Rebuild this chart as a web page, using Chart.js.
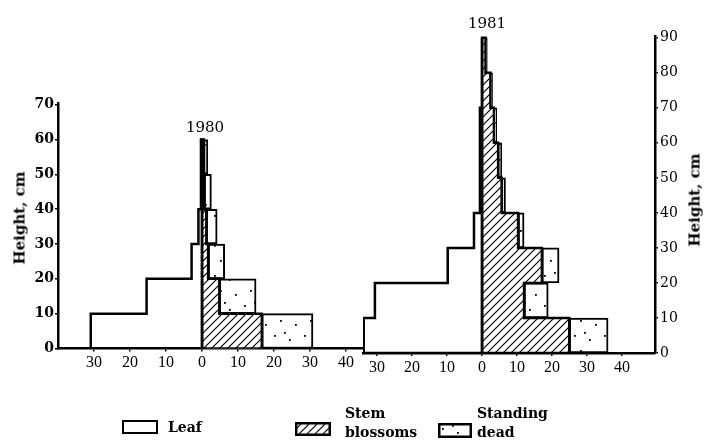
<!DOCTYPE html>
<html><head><meta charset="utf-8">
<script src="https://cdn.jsdelivr.net/npm/chart.js@4.4.1/dist/chart.umd.min.js"></script>
<style>
html,body{margin:0;padding:0;background:#fff;}
#wrap{position:relative;width:705px;height:444px;overflow:hidden;font-family:"DejaVu Serif",serif;color:#000;background:#fff;}
canvas{position:absolute;left:0;top:0;}
.t{position:absolute;white-space:nowrap;line-height:1;}
.yt{font-weight:bold;font-size:15px;transform:translate(-50%,-50%) rotate(-90deg);}
.yr{font-size:15px;transform:translate(-50%,-50%);}
.lg{font-weight:bold;font-size:14px;}
.sw{position:absolute;box-sizing:border-box;border:2.5px solid #000;}
</style></head><body>
<div id="wrap">
<canvas id="c1" width="705" height="444"></canvas>
<canvas id="c2" width="705" height="444"></canvas>
<div class="t yt" style="left:20px;top:218px;">Height, cm</div>
<div class="t yt" style="left:695px;top:200px;">Height, cm</div>
<div class="t yr" id="y1980" style="left:205px;top:127px;"></div>
<div class="t yr" id="y1981" style="left:487px;top:23px;"></div>
<div class="sw" style="left:122px;top:420px;width:36px;height:14px;background:#fff;"></div>
<div class="t lg" style="left:168px;top:420px;">Leaf</div>
<canvas id="sw2" width="36" height="14" style="left:295px;top:422px;"></canvas>
<div class="t lg" style="left:345px;top:406px;">Stem</div>
<div class="t lg" style="left:345px;top:425px;">blossoms</div>
<canvas id="sw3" width="34" height="15" style="left:438px;top:423px;"></canvas>
<div class="t lg" style="left:477px;top:406px;">Standing</div>
<div class="t lg" style="left:477px;top:425px;">dead</div>
</div>
<script>
// ---- data (values in phytomass units, heights in cm) ----
const years = ['1980', '1981'];
const seriesNames = ['Leaf', 'Stem blossoms', 'Standing dead'];
const xTickValues = [-30, -20, -10, 0, 10, 20, 30, 40];

const bands1980 = [0, 10, 20, 30, 40, 50];
const leaf1980  = [30.9, 15.4, 2.9, 1.0, 0.3, 0.3];
const stem1980  = [16.6, 4.8, 1.7, 1.2, 0.6, 0.5];
const dead1980  = [14.2, 10.2, 4.6, 3.0, 2.0, 1.1];

const bands1981 = [0, 10, 20, 30, 40, 50, 60, 70, 80];
const leaf1981  = [33.8, 30.6, 9.8, 2.3, 0.6, 0.6, 0.6, 0, 0];
const stem1981  = [24.9, 12.0, 17.1, 10.3, 5.6, 4.6, 3.4, 2.4, 1.0];
const dead1981  = [11.1, 6.9, 4.9, 1.7, 1.1, 1.0, 0.8, 0.6, 0.5];

const BAND = 10;

// ---- fill patterns ----
function hatchPattern(ctx) {
  const c = document.createElement('canvas'); c.width = 8; c.height = 8;
  const g = c.getContext('2d');
  g.fillStyle = '#fff'; g.fillRect(0, 0, 8, 8);
  g.strokeStyle = '#000'; g.lineWidth = 1.2;
  g.beginPath();
  g.moveTo(0, 8); g.lineTo(8, 0);
  g.moveTo(-4, 4); g.lineTo(4, -4);
  g.moveTo(4, 12); g.lineTo(12, 4);
  g.stroke();
  return ctx.createPattern(c, 'repeat');
}
function dotPattern(ctx) {
  const c = document.createElement('canvas'); c.width = 30; c.height = 30;
  const g = c.getContext('2d');
  g.fillStyle = '#fff'; g.fillRect(0, 0, 30, 30);
  g.fillStyle = '#000';
  [[4,5],[19,9],[10,20],[25,24],[14,2]].forEach(p => g.fillRect(p[0], p[1], 1.8, 1.8));
  return ctx.createPattern(c, 'repeat');
}

// ---- helpers building the library tables from the arrays ----
function outline(bands, vals, sign) {
  const pts = [{x: 0, y: bands[0]}];
  bands.forEach((b, i) => {
    pts.push({x: sign * vals[i], y: b});
    pts.push({x: sign * vals[i], y: b + BAND});
  });
  pts.push({x: 0, y: bands[bands.length - 1] + BAND});
  pts.push({x: 0, y: bands[0]});
  return pts;
}

const tickFont = {family: 'Liberation Serif', size: 16};
const yFont = {family: 'DejaVu Serif', size: 14, weight: 'bold'};

function panel(id, bands, leaf, stem, dead, o) {
  const ctx = document.getElementById(id).getContext('2d');
  const hatch = hatchPattern(ctx), dots = dotPattern(ctx);
  const scales = {
    x: {
      type: 'linear', min: o.xmin, max: o.xmax, position: 'bottom', offset: false,
      afterBuildTicks: s => { s.ticks = xTickValues.map(v => ({value: v})); },
      afterFit: s => { s.height = 30; },
      ticks: {stepSize: 10, includeBounds: false, autoSkip: false, maxRotation: 0, padding: 2,
              color: '#000', font: tickFont, callback: v => String(Math.abs(v))},
      grid: {offset: false, drawOnChartArea: false, drawTicks: true, tickLength: 3, color: '#000', lineWidth: 1.5},
      border: {display: true, color: '#000', width: 2.5}
    },
    y: {
      type: 'linear', min: 0, max: o.ymax, position: o.ypos, offset: false,
      afterBuildTicks: s => { s.ticks = s.ticks.filter(t => t.value % 10 === 0); },
      afterFit: s => { s.width = o.yw; },
      ticks: {stepSize: 10, includeBounds: false, padding: o.ypad, color: '#000', font: o.yfont},
      grid: {offset: false, drawOnChartArea: false, drawTicks: true, tickLength: 3, color: '#000', lineWidth: 1.5},
      border: {display: true, color: '#000', width: 2.5}
    }
  };
  const barCommon = {type: 'bar', grouped: false, barPercentage: 1, categoryPercentage: 1, order: 2};
  return new Chart(ctx, {
    type: 'bar',
    data: {
      datasets: [
        Object.assign({label: seriesNames[1], data: bands.map((b, i) => ({x: [0, stem[i]], y: b + BAND / 2})),
          backgroundColor: hatch, borderWidth: 0}, barCommon),
        Object.assign({label: seriesNames[2], data: bands.map((b, i) => ({x: [stem[i], stem[i] + dead[i]], y: b + BAND / 2})),
          backgroundColor: dots, borderColor: '#000', borderWidth: 2, borderSkipped: false}, barCommon),
        {type: 'line', label: seriesNames[0], data: outline(bands, leaf, -1), borderColor: '#000', borderWidth: 2.5,
          pointRadius: 0, fill: false, tension: 0, order: 0, borderJoinStyle: 'miter'},
        {type: 'line', label: seriesNames[1] + ' outline', data: outline(bands, stem, 1), borderColor: '#000', borderWidth: 2.5,
          pointRadius: 0, fill: false, tension: 0, order: 0, borderJoinStyle: 'miter'}
      ]
    },
    options: {
      indexAxis: 'y', responsive: false, animation: false, devicePixelRatio: 1,
      layout: {padding: o.pad},
      plugins: {legend: {display: false}, tooltip: {enabled: false}, title: {display: false}},
      scales: scales
    }
  });
}

panel('c1', bands1980, leaf1980, stem1980, dead1980,
  {xmin: -40, xmax: 44.7, ymax: 70.5, ypos: 'left', yw: 58, ypad: 1, yfont: yFont,
   pad: {left: 0, right: 342, top: 103, bottom: 65.5}});
panel('c2', bands1981, leaf1981, stem1981, dead1981,
  {xmin: -34, xmax: 49.4, ymax: 90.5, ypos: 'right', yw: 50, ypad: 2,
   yfont: {family: 'DejaVu Serif', size: 14},
   pad: {left: 363, right: 0, top: 36, bottom: 61}});

document.getElementById('y1980').textContent = years[0];
document.getElementById('y1981').textContent = years[1];

// legend swatches
(function () {
  const s2 = document.getElementById('sw2').getContext('2d');
  s2.fillStyle = hatchPattern(s2); s2.fillRect(0, 0, 36, 14);
  s2.strokeStyle = '#000'; s2.lineWidth = 2.5; s2.strokeRect(1.25, 1.25, 33.5, 11.5);
  const s3 = document.getElementById('sw3').getContext('2d');
  s3.fillStyle = dotPattern(s3); s3.fillRect(0, 0, 34, 15);
  s3.strokeStyle = '#000'; s3.lineWidth = 2.5; s3.strokeRect(1.25, 1.25, 31.5, 12.5);
})();
</script>
</body></html>
